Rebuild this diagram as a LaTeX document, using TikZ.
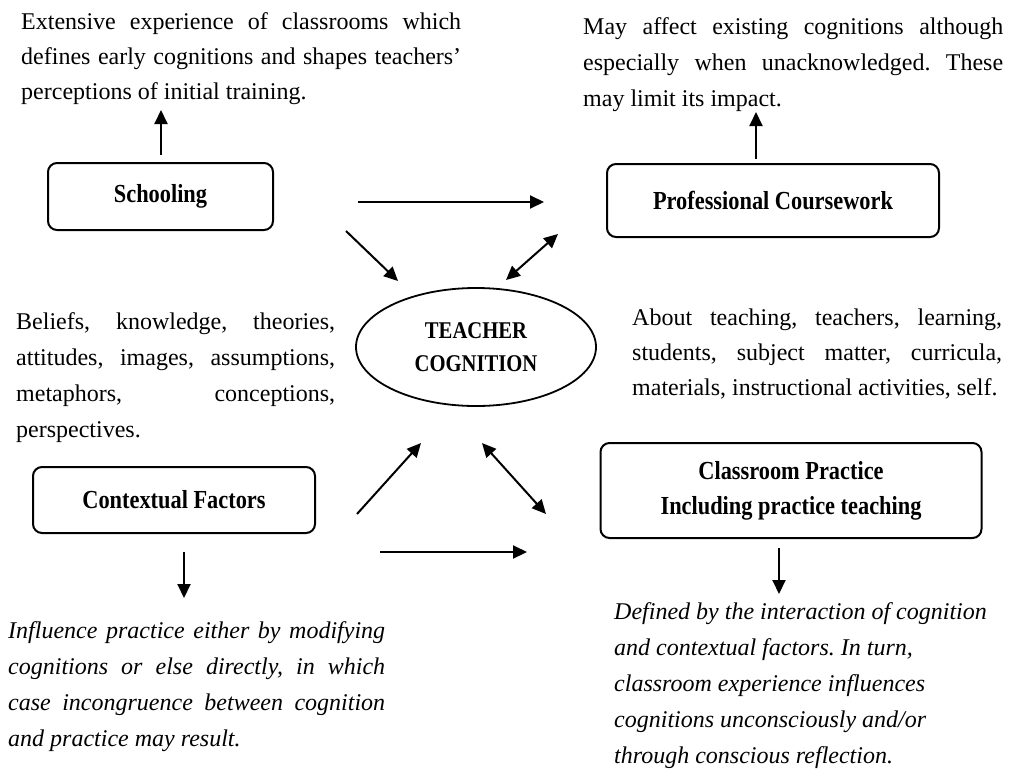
\documentclass[tikz,border=0pt]{standalone}
\usepackage{fontspec}
\setmainfont{Liberation Serif}
\newfontfamily\boxfont[FakeStretch=0.86]{Liberation Serif}
\usetikzlibrary{arrows.meta,shapes.geometric}
\frenchspacing
\newcommand{\nsp}{\frenchspacing\spaceskip=0pt\xspaceskip=0pt\relax}
\newcommand{\jl}[2]{{\nsp\makebox[#1][s]{#2}}}
\begin{document}
\begin{tikzpicture}[x=1pt,y=-1pt,
  box/.style={draw,line width=2pt,rounded corners=9pt,inner sep=0pt,align=center,
    font=\fontsize{26}{35}\boxfont\bfseries},
  para/.style={anchor=north west,inner sep=0pt,align=left,text width=480pt,
    font=\fontsize{24}{35}\selectfont},
  ipara/.style={para,font=\fontsize{24}{36}\selectfont\itshape},
  arr/.style={line width=2pt,-{Triangle[length=14pt,width=13pt]}},
  darr/.style={line width=2pt,{Triangle[length=14pt,width=13pt]}-{Triangle[length=14pt,width=13pt]}}]
\useasboundingbox (0,0) rectangle (1009,774);
\fill[white] (0,0) rectangle (1009,774);

% text blocks
\node[para] (ttl) at (21,12) {\nsp
\jl{440pt}{Extensive experience of classrooms which}\\
\jl{440pt}{defines early cognitions and shapes teachers'}\\
\mbox{perceptions of initial training.}};
\node[para,font=\fontsize{24}{36}\selectfont] (ttr) at (583,17) {\nsp
\jl{420pt}{May affect existing cognitions although}\\
\jl{420pt}{especially when unacknowledged. These}\\
\mbox{may limit its impact.}};
\node[para,font=\fontsize{24}{36}\selectfont] (tml) at (16,312) {\nsp
\jl{319pt}{Beliefs, knowledge, theories,}\\
\jl{319pt}{attitudes, images, assumptions,}\\
\jl{319pt}{metaphors, conceptions,}\\
\mbox{perspectives.}};
\node[para,font=\fontsize{24}{35}\selectfont] (tmr) at (632,309) {\nsp
\jl{370pt}{About teaching, teachers, learning,}\\
\jl{370pt}{students, subject matter, curricula,}\\
\mbox{materials, instructional activities, self.}};
\node[ipara] (tbl) at (8,621) {\nsp
\jl{377pt}{Influence practice either by modifying}\\
\jl{377pt}{cognitions or else directly, in which}\\
\jl{377pt}{case incongruence between cognition}\\
\mbox{and practice may result.}};
\node[ipara] (tbr) at (614,602) {\nsp
\mbox{Defined by the interaction of cognition}\\
\mbox{and contextual factors. In turn,}\\
\mbox{classroom experience influences}\\
\mbox{cognitions unconsciously and/or}\\
\mbox{through conscious reflection.}};

% boxes
\node[box,minimum width=225pt,minimum height=67pt] (school) at (160.5,196.5) {Schooling};
\node[box,minimum width=332pt,minimum height=73pt] (prof) at (773,200.5) {Professional Coursework};
\node[box,minimum width=282pt,minimum height=66pt] (context) at (174,500) {Contextual Factors};
\node[box,minimum width=381pt,minimum height=95pt] (class) at (791,490.5) {Classroom Practice\\Including practice teaching};
\node[draw,ellipse,line width=1.8pt,minimum width=240pt,minimum height=118pt,inner sep=0pt,align=center,
  font=\fontsize{24}{33}\boxfont\bfseries] (tc) at (476,347) {TEACHER\\COGNITION};

% arrow end points
\coordinate (a1s) at (161,155); \coordinate (a1e) at (161,110);
\coordinate (a2s) at (756,159); \coordinate (a2e) at (756,112);
\coordinate (h1s) at (358,202); \coordinate (h1e) at (544,202);
\coordinate (d1s) at (346,231); \coordinate (d1e) at (398,281);
\coordinate (d2s) at (506,280); \coordinate (d2e) at (558,234);
\coordinate (u1s) at (357,514); \coordinate (u1e) at (421,443);
\coordinate (d3s) at (482,443); \coordinate (d3e) at (546,514);
\coordinate (h2s) at (380,552); \coordinate (h2e) at (527,552);
\coordinate (v1s) at (184,552); \coordinate (v1e) at (184,598);
\coordinate (v2s) at (779,548); \coordinate (v2e) at (779,594);

\draw[arr] (a1s) -- (a1e);
\draw[arr] (a2s) -- (a2e);
\draw[arr] (h1s) -- (h1e);
\draw[arr] (d1s) -- (d1e);
\draw[darr] (d2s) -- (d2e);
\draw[arr] (u1s) -- (u1e);
\draw[darr] (d3s) -- (d3e);
\draw[arr] (h2s) -- (h2e);
\draw[arr] (v1s) -- (v1e);
\draw[arr] (v2s) -- (v2e);
\end{tikzpicture}
\end{document}
